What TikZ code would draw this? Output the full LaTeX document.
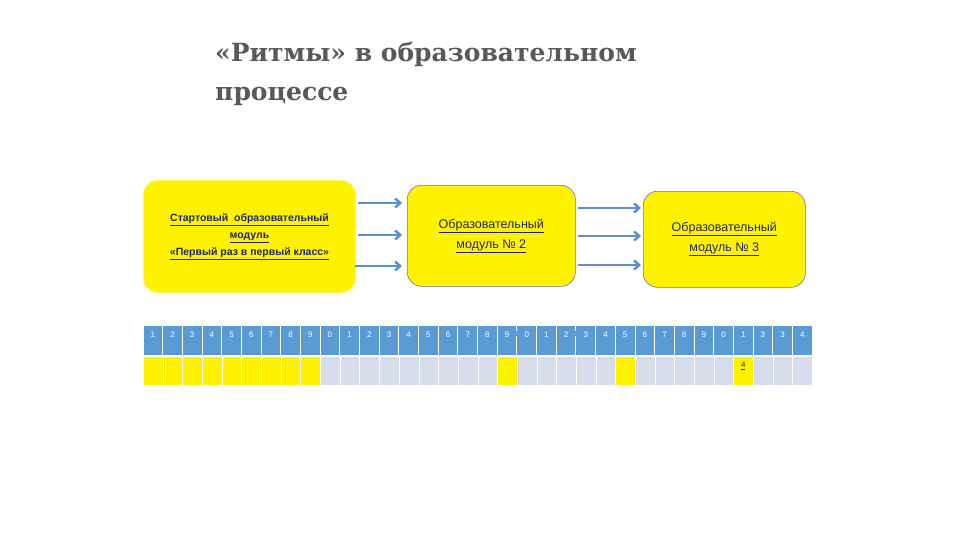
\documentclass[tikz,border=0pt]{standalone}
\usepackage{fontspec}
\setmainfont{DejaVu Serif}
\setsansfont{Liberation Sans}
\definecolor{hblue}{HTML}{5B9BD5}
\definecolor{arr}{HTML}{5B8FD0}
\definecolor{lav}{HTML}{D6DCEC}
\definecolor{navy}{HTML}{1F2A6E}
\begin{document}
\begin{tikzpicture}[x=1pt,y=-1pt,
  modbox/.style={draw=yellow!60!white,fill=yellow,rounded corners=14pt,line width=1pt,font=\sffamily\fontsize{11.5}{14}\selectfont,text=navy,align=center,anchor=north west,inner sep=0pt},
  modbox2/.style={modbox,draw=blue!40!gray!80,line width=0.6pt},
  flow/.style={draw=arr,line width=2.5pt,-{Straight Barb[length=5pt,width=9pt]}},
  hcell/.style={fill=hblue,draw=white,line width=0.8pt,minimum width=19.68pt,minimum height=30pt,anchor=north west,inner sep=0pt,text=white,font=\sffamily\fontsize{8}{13}\selectfont,align=center},
  ecell/.style={fill=lav,draw=white,line width=0.8pt,minimum width=19.68pt,minimum height=29pt,anchor=north west,inner sep=0pt,font=\sffamily\fontsize{8}{8}\selectfont},
  ycell/.style={ecell,fill=yellow}]
\usetikzlibrary{arrows.meta}
\useasboundingbox (0,0) rectangle (960,540);
\fill[white] (0,0) rectangle (960,540);
\node[anchor=north west,align=left,font=\bfseries\fontsize{25}{39}\selectfont,text=black!65,inner sep=0pt] (title) at (215,42) {«Ритмы» в образовательном\\процессе};
\node[modbox,minimum width=212pt,minimum height=112pt,font=\sffamily\bfseries\fontsize{10.5}{17}\selectfont] (m1) at (143,180) {\underline{Стартовый\ \ образовательный}\\\underline{модуль}\\\underline{«Первый раз в первый класс»}};
\node[modbox2,minimum width=168pt,minimum height=101pt,font=\sffamily\fontsize{12.5}{20}\selectfont] (m2) at (407,185) {\underline{Образовательный}\\\underline{модуль № 2}};
\node[modbox2,minimum width=162pt,minimum height=96pt,font=\sffamily\fontsize{12.5}{20}\selectfont] (m3) at (643,191) {\underline{Образовательный}\\\underline{модуль № 3}};
\coordinate (a1s) at (358,203); \coordinate (a1e) at (402,203);
\coordinate (a2s) at (358,235); \coordinate (a2e) at (402,235);
\coordinate (a3s) at (355,266); \coordinate (a3e) at (402,266);
\coordinate (b1s) at (578,208); \coordinate (b1e) at (641,208);
\coordinate (b2s) at (578,236); \coordinate (b2e) at (641,236);
\coordinate (b3s) at (578,265); \coordinate (b3e) at (641,265);
\foreach \s/\e in {a1s/a1e,a2s/a2e,a3s/a3e,b1s/b1e,b2s/b2e,b3s/b3e} \draw[flow] (\s) -- (\e);
\foreach \i/\l in {1/1,2/2,3/3,4/4,5/5,6/6,7/7,8/8,9/9,10/1\\0,11/1\\1,12/1\\2,13/1\\3,14/1\\4,15/1\\5,16/1\\6,17/1\\7,18/1\\8,19/1\\9,20/2\\0,21/2\\1,22/2\\2,23/2\\3,24/2\\4,25/2\\5,26/2\\6,27/2\\7,28/2\\8,29/2\\9,30/3\\0,31/3\\1,32/2\\3,33/3\\3,34/3\\4}
  \node[hcell,anchor=north,minimum height=0pt,text height=6pt] (h\i) at ({143+(\i-0.5)*19.68},330) {\l};
\foreach \i in {1,...,34}
  \fill[hblue] ({143+(\i-1)*19.68+0.5},326) rectangle ({143+\i*19.68-0.5},355);
\foreach \i/\l in {1/1,2/2,3/3,4/4,5/5,6/6,7/7,8/8,9/9,10/1\\0,11/1\\1,12/1\\2,13/1\\3,14/1\\4,15/1\\5,16/1\\6,17/1\\7,18/1\\8,19/1\\9,20/2\\0,21/2\\1,22/2\\2,23/2\\3,24/2\\4,25/2\\5,26/2\\6,27/2\\7,28/2\\8,29/2\\9,30/3\\0,31/3\\1,32/2\\3,33/3\\3,34/3\\4}
  \node[hcell,draw=none,fill=none,anchor=north,minimum height=0pt,text height=6pt] (h\i) at ({143+(\i-0.5)*19.68},331) {\l};
\foreach \i in {1,...,34}{
  \ifnum\i<10 \node[ycell] (c\i) at ({143+(\i-1)*19.68},356) {};
  \else \node[ecell] (c\i) at ({143+(\i-1)*19.68},356) {}; \fi}
\node[ycell] (c19) at ({143+18*19.68},356) {};
\node[ycell] (c25) at ({143+24*19.68},356) {};
\node[ycell] (c31) at ({143+30*19.68},356) {};
\node[font=\sffamily\fontsize{8}{8}\selectfont,text=navy] (c31t) at ({143+30*19.68+9.84},366) {\underline{4}};
\end{tikzpicture}
\end{document}
